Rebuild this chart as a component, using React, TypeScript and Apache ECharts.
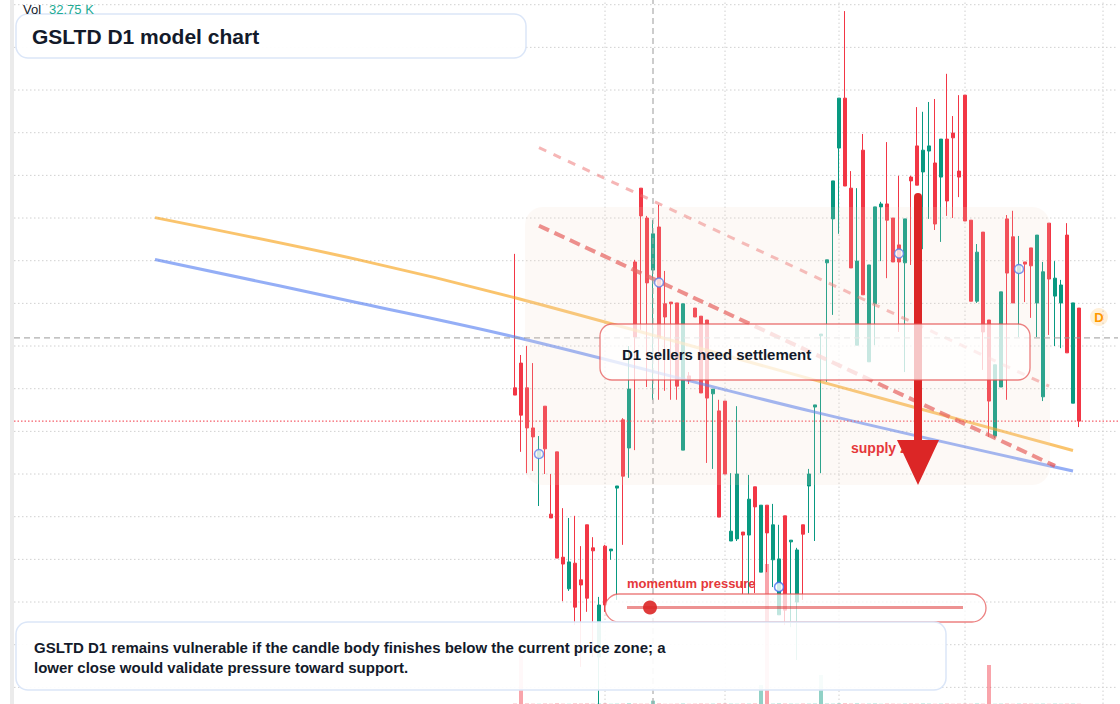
import React, { useEffect, useRef } from "react";
import * as echarts from "echarts";

// ---------- data ----------
const slotCount = 184;
const slots = Array.from({ length: slotCount }, (_, i) => String(i));
const firstSlot = 83;

// [open, close, low, high]
const ohlc: number[][] = [
  [107.02, 106.85, 106.85, 110.16],
  [107.6, 106.38, 105.52, 107.79],
  [107.02, 106.08, 105.02, 108.0],
  [106.08, 105.87, 105.07, 107.6],
  [105.4, 105.54, 104.25, 105.89],
  [106.59, 105.59, 105.0, 106.59],
  [104.06, 103.97, 103.97, 105.0],
  [105.52, 103.03, 103.03, 105.52],
  [103.05, 102.89, 102.02, 104.2],
  [102.31, 102.94, 102.26, 103.97],
  [102.91, 101.88, 101.46, 104.02],
  [102.52, 102.4, 100.48, 103.31],
  [103.81, 102.09, 101.77, 103.81],
  [103.27, 103.2, 100.71, 103.52],
  [100.71, 101.93, 99.61, 102.12],
  [103.31, 101.93, 101.77, 103.34],
  [103.2, 103.24, 102.99, 103.24],
  [104.67, 104.72, 102.05, 104.72],
  [106.27, 104.95, 103.34, 106.31],
  [105.61, 106.99, 104.91, 108.0],
  [109.97, 108.21, 105.56, 110.02],
  [111.7, 111.05, 108.38, 111.7],
  [111.0, 109.48, 107.04, 111.05],
  [109.78, 110.63, 106.74, 110.95],
  [110.79, 108.19, 106.74, 111.31],
  [108.99, 108.68, 106.95, 109.76],
  [109.03, 108.99, 106.74, 109.03],
  [109.01, 107.06, 106.74, 109.01],
  [105.56, 108.99, 105.56, 108.99],
  [107.3, 107.2, 107.11, 107.39],
  [108.89, 108.68, 108.68, 108.89],
  [108.7, 106.9, 106.9, 108.7],
  [108.61, 106.78, 105.26, 108.61],
  [106.88, 106.99, 105.12, 106.99],
  [106.48, 103.99, 103.99, 106.74],
  [106.71, 105.0, 105.0, 106.71],
  [103.43, 103.66, 103.43, 105.02],
  [103.48, 105.0, 103.43, 106.59],
  [103.64, 103.57, 102.19, 103.64],
  [103.57, 104.41, 102.19, 104.98],
  [104.7, 104.23, 102.21, 104.7],
  [102.7, 104.27, 102.7, 104.27],
  [104.27, 103.62, 102.7, 104.27],
  [102.99, 103.81, 102.35, 104.3],
  [101.7, 103.01, 101.7, 103.81],
  [104.02, 101.81, 101.46, 104.02],
  [103.41, 103.45, 101.41, 103.45],
  [102.0, 103.22, 100.64, 103.27],
  [103.81, 103.59, 102.05, 103.81],
  [104.72, 105.0, 103.62, 105.12],
  [106.57, 106.62, 103.43, 106.62],
  [108.24, 108.28, 105.02, 108.28],
  [109.95, 110.02, 107.16, 110.02],
  [110.98, 111.87, 108.73, 111.87],
  [112.64, 113.81, 110.63, 113.81],
  [113.81, 111.75, 111.75, 115.85],
  [111.7, 109.83, 109.83, 112.1],
  [108.02, 109.99, 108.02, 111.7],
  [112.59, 109.2, 109.2, 112.97],
  [107.63, 109.9, 107.63, 109.9],
  [108.99, 111.26, 108.02, 111.26],
  [111.26, 111.33, 109.99, 111.38],
  [111.33, 110.95, 109.59, 112.78],
  [111.0, 109.97, 109.97, 111.0],
  [110.37, 109.97, 108.33, 111.99],
  [109.95, 110.98, 107.39, 110.98],
  [111.96, 111.87, 109.9, 111.99],
  [112.69, 111.77, 111.77, 113.6],
  [112.08, 112.59, 110.27, 113.49],
  [112.57, 112.69, 110.98, 113.72],
  [112.29, 110.86, 110.72, 113.79],
  [111.96, 112.85, 110.44, 112.85],
  [112.85, 111.4, 111.05, 114.38],
  [112.99, 112.88, 111.0, 113.39],
  [112.1, 111.96, 111.49, 113.88],
  [113.88, 110.93, 110.93, 113.88],
  [110.95, 109.05, 109.05, 110.95],
  [109.05, 110.2, 109.01, 110.39],
  [110.67, 108.33, 107.44, 110.67],
  [108.61, 106.71, 105.87, 108.61],
  [105.89, 107.56, 105.84, 107.56],
  [107.04, 109.27, 107.04, 109.27],
  [110.98, 109.71, 106.74, 111.07],
  [110.56, 109.01, 109.01, 111.17],
  [109.71, 109.9, 108.21, 110.58],
  [109.97, 109.92, 109.03, 109.97],
  [110.3, 109.88, 108.66, 110.3],
  [109.01, 110.6, 108.21, 110.6],
  [106.81, 109.74, 106.71, 109.97],
  [110.88, 109.57, 108.26, 110.88],
  [109.17, 109.59, 108.0, 109.99],
  [109.01, 109.43, 107.95, 109.55],
  [110.6, 107.84, 107.84, 110.88],
  [106.66, 109.01, 106.66, 109.01],
  [108.89, 106.24, 106.1, 108.89],
];

// volume in K
const volumes = [
  4, 490, 5, 3, 2, 4, 3, 6, 3, 2,
  5, 4, 5, 3, 4, 5, 2, 3, 4, 6,
  4, 3, 3, 32.75, 5, 2, 2, 3, 4, 2,
  3, 4, 3, 3, 5, 4, 3, 2, 4, 3,
  5, 190, 1400, 3, 5, 4, 3, 2, 4, 3,
  4, 290, 4, 3, 5, 6, 4, 5, 3, 3,
  4, 2, 4, 3, 2, 3, 4, 3, 4, 3,
  2, 3, 4, 2, 3, 3, 3, 4, 3, 390,
  2, 3, 4, 2, 3, 4, 3, 2, 3, 2,
  3, 2, 3, 3, 2,
];

const markerIdx = [4, 24, 44, 64, 84];
const gridYs = [100, 101, 102, 103, 104, 105, 106, 107, 108, 109, 110, 111, 112, 113, 114, 115, 116];
const gridXs = [98, 118, 137, 158, 181];
const crossSlot = 106;
const crossPrice = 108.19;
const priceMin = 99.61;
const priceMax = 116.11;

const orangeCurve = [[23, 111.01], [57, 110.02], [83, 109.13], [133, 107.2], [176, 105.55]];
const blueCurve = [[23, 110.03], [57, 109.01], [83, 108.21], [133, 106.45], [176, 105.07]];
const thickDash = [[87, 110.82], [173, 105.19]];
const thinDash = [[87, 112.65], [172, 107.06]];

const UP = "#089981";
const DOWN = "#f23645";
const FONT = '"Liberation Sans", Arial, Helvetica, sans-serif';
const INK = "#131a2a";

export default function App() {
  const ref = useRef<HTMLDivElement>(null);
  useEffect(() => {
    document.body.style.margin = "0";
    if (!ref.current) return;
    const chart = echarts.init(ref.current, undefined, { renderer: "svg" });
    const lastPrice = ohlc[ohlc.length - 1][1];
    const volText = `${volumes[crossSlot - firstSlot].toFixed(2)} K`;

    const candleData = ohlc.map((c, k) => [firstSlot + k, c[0], c[1], c[2], c[3]]);
    const volData = volumes.map((v, k) => ({
      value: [firstSlot + k, v],
      itemStyle: { color: ohlc[k][1] >= ohlc[k][0] ? "rgba(8,153,129,0.45)" : "rgba(242,54,69,0.45)" },
    }));
    const markers = markerIdx.map((k) => [firstSlot + k, (ohlc[k][0] + ohlc[k][1]) / 2]);

    const gridStyle = { color: "#d0d0d0", width: 1, type: [1.5, 2.5] };
    const gridSeries = [
      ...gridYs.map((v) => ({
        type: "line",
        xAxisIndex: 2,
        data: [[-0.5, v], [slotCount - 0.5, v]],
        symbol: "none",
        silent: true,
        z: 0,
        lineStyle: gridStyle,
      })),
      ...gridXs.map((s) => ({
        type: "line",
        xAxisIndex: 2,
        data: [[s, priceMin], [s, priceMax]],
        symbol: "none",
        silent: true,
        z: 0,
        lineStyle: gridStyle,
      })),
    ];

    const option: any = {
      animation: false,
      grid: [
        { left: 14, right: 2, top: 0, bottom: 0 },
        { left: 14, right: 2, bottom: 0, height: 200 },
      ],
      xAxis: [
        { type: "category", data: slots, boundaryGap: true, show: false },
        { type: "category", data: slots, boundaryGap: true, show: false, gridIndex: 1 },
        { type: "value", min: -0.5, max: slotCount - 0.5, show: false, gridIndex: 0 },
      ],
      yAxis: [
        { type: "value", min: priceMin, max: priceMax, show: false },
        { type: "value", min: 0, max: 2000, show: false, gridIndex: 1 },
      ],
      series: [
        ...gridSeries,
        {
          type: "bar",
          xAxisIndex: 1,
          yAxisIndex: 1,
          barWidth: 4,
          data: volData,
          z: 2,
          silent: true,
        },
        {
          type: "candlestick",
          data: candleData,
          encode: { x: 0, y: [1, 2, 3, 4] },
          barWidth: 4,
          z: 3,
          silent: true,
          itemStyle: {
            color: UP,
            color0: DOWN,
            borderColor: UP,
            borderColor0: DOWN,
            borderWidth: 1,
          },
        },
        {
          type: "line",
          data: orangeCurve,
          smooth: 0.35,
          symbol: "none",
          z: 4,
          silent: true,
          lineStyle: { color: "rgba(247,160,20,0.62)", width: 3 },
        },
        {
          type: "line",
          data: blueCurve,
          smooth: 0.35,
          symbol: "none",
          z: 4,
          silent: true,
          lineStyle: { color: "rgba(70,115,240,0.58)", width: 3 },
        },
        {
          type: "line",
          data: thinDash,
          symbol: "none",
          z: 4,
          silent: true,
          lineStyle: { color: "rgba(238,110,110,0.5)", width: 3, type: [8, 8] },
        },
        {
          type: "line",
          data: thickDash,
          symbol: "none",
          z: 4,
          silent: true,
          lineStyle: { color: "rgba(228,80,80,0.72)", width: 4, type: [11, 6] },
        },
        {
          type: "line",
          xAxisIndex: 2,
          data: [[-0.5, crossPrice], [slotCount - 0.5, crossPrice]],
          symbol: "none",
          silent: true,
          z: 5,
          lineStyle: { color: "#9a9a9a", width: 1, type: [6, 4] },
        },
        {
          type: "line",
          xAxisIndex: 2,
          data: [[crossSlot, priceMin], [crossSlot, priceMax]],
          symbol: "none",
          silent: true,
          z: 5,
          lineStyle: { color: "#9a9a9a", width: 1, type: [6, 4] },
        },
        {
          type: "line",
          xAxisIndex: 2,
          data: [[-0.5, lastPrice], [slotCount - 0.5, lastPrice]],
          symbol: "none",
          silent: true,
          z: 5,
          lineStyle: { color: DOWN, width: 1, type: [1.5, 2] },
        },
        {
          type: "scatter",
          data: markers,
          symbol: "circle",
          symbolSize: 9,
          z: 6,
          silent: true,
          itemStyle: { color: "#ffffff", borderColor: "#3f6ef0", borderWidth: 1.5 },
        },
      ],
      graphic: [
        { type: "rect", z: 50, shape: { x: 10, y: 0, width: 4, height: 704 }, style: { fill: "#ebebeb" } },
        {
          type: "rect",
          z: 60,
          shape: { x: 525, y: 207, width: 525, height: 278, r: 18 },
          style: { fill: "rgba(245,215,200,0.16)" },
        },
        {
          type: "text",
          z: 61,
          style: { text: "supply zone", x: 851, y: 448, verticalAlign: "middle", fill: "#e5383b", font: `bold 14px ${FONT}` },
        },
        {
          type: "rect",
          z: 62,
          shape: { x: 914, y: 193, width: 8, height: 250, r: [4, 4, 0, 0] },
          style: { fill: "#dc2626" },
        },
        {
          type: "polygon",
          z: 62,
          shape: { points: [[897, 440], [939, 440], [918, 485]] },
          style: { fill: "#dc2626" },
        },
        {
          type: "rect",
          z: 70,
          shape: { x: 600, y: 324, width: 430, height: 56, r: 12 },
          style: { fill: "rgba(255,255,255,0.74)", stroke: "rgba(228,80,80,0.72)", lineWidth: 1.3 },
        },
        {
          type: "text",
          z: 71,
          style: { text: "D1 sellers need settlement", x: 622, y: 354, verticalAlign: "middle", fill: INK, font: `bold 15px ${FONT}` },
        },
        {
          type: "text",
          z: 71,
          style: { text: "momentum pressure", x: 627, y: 583, verticalAlign: "middle", fill: "#e5383b", font: `bold 13px ${FONT}` },
        },
        {
          type: "rect",
          z: 70,
          shape: { x: 605, y: 594, width: 381, height: 28, r: 14 },
          style: { fill: "rgba(255,255,255,0.74)", stroke: "rgba(228,80,80,0.72)", lineWidth: 1.3 },
        },
        {
          type: "line",
          z: 71,
          shape: { x1: 627, y1: 607.5, x2: 963, y2: 607.5 },
          style: { stroke: "rgba(220,38,38,0.5)", lineWidth: 3 },
        },
        {
          type: "circle",
          z: 72,
          shape: { cx: 650, cy: 607.5, r: 7 },
          style: { fill: "rgba(220,38,38,0.9)" },
        },
        {
          type: "rect",
          z: 80,
          shape: { x: 16, y: 622, width: 930, height: 68, r: 12 },
          style: { fill: "rgba(255,255,255,0.92)", stroke: "#dbe6f8", lineWidth: 1.5 },
        },
        {
          type: "text",
          z: 81,
          style: {
            text: "GSLTD D1 remains vulnerable if the candle body finishes below the current price zone; a",
            x: 34,
            y: 647,
            verticalAlign: "middle",
            fill: INK,
            font: `bold 15px ${FONT}`,
          },
        },
        {
          type: "text",
          z: 81,
          style: {
            text: "lower close would validate pressure toward support.",
            x: 34,
            y: 667,
            verticalAlign: "middle",
            fill: INK,
            font: `bold 15px ${FONT}`,
          },
        },
        {
          type: "rect",
          z: 80,
          shape: { x: 16, y: 14, width: 510, height: 44, r: 12 },
          style: { fill: "rgba(255,255,255,0.95)", stroke: "#dbe6f8", lineWidth: 1.5 },
        },
        {
          type: "text",
          z: 81,
          style: { text: "GSLTD D1 model chart", x: 32, y: 36, verticalAlign: "middle", fill: INK, font: `bold 21px ${FONT}` },
        },
        {
          type: "text",
          z: 81,
          style: { text: "Vol", x: 23, y: 9, verticalAlign: "middle", fill: INK, font: `13px ${FONT}` },
        },
        {
          type: "text",
          z: 81,
          style: { text: volText, x: 49, y: 9, verticalAlign: "middle", fill: "#22ab94", font: `13px ${FONT}` },
        },
        {
          type: "circle",
          z: 81,
          shape: { cx: 1099, cy: 317, r: 9 },
          style: { fill: "rgba(255,152,0,0.15)" },
        },
        {
          type: "text",
          z: 82,
          style: { text: "D", x: 1099, y: 317, align: "center", verticalAlign: "middle", fill: "#ff9800", font: `bold 13px ${FONT}` },
        },
      ],
    };
    chart.setOption(option);
    return () => chart.dispose();
  }, []);
  return <div ref={ref} style={{ width: 1120, height: 704 }} />;
}
